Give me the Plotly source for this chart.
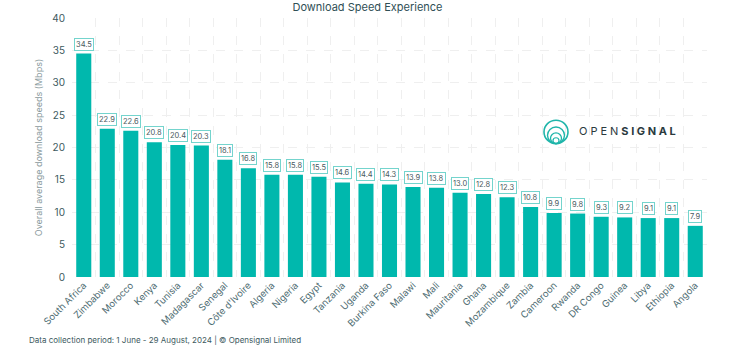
import plotly.graph_objects as go

countries = ["South Africa", "Zimbabwe", "Morocco", "Kenya", "Tunisia", "Madagascar",
             "Senegal", "Côte d'Ivoire", "Algeria", "Nigeria", "Egypt", "Tanzania",
             "Uganda", "Burkina Faso", "Malawi", "Mali", "Mauritania", "Ghana",
             "Mozambique", "Zambia", "Cameroon", "Rwanda", "DR Congo", "Guinea",
             "Libya", "Ethiopia", "Angola"]
speeds = [34.5, 22.9, 22.6, 20.8, 20.4, 20.3, 18.1, 16.8, 15.8, 15.8, 15.5, 14.6,
          14.4, 14.3, 13.9, 13.8, 13.0, 12.8, 12.3, 10.8, 9.9, 9.8, 9.3, 9.2,
          9.1, 9.1, 7.9]
y_ticks = [0, 5, 10, 15, 20, 25, 30, 35, 40]

BAR = "#00b8ad"
TXT = "#3d5a60"
GRID = "#efefef"

xs = list(range(len(countries)))

fig = go.Figure()
fig.add_trace(go.Bar(x=xs, y=speeds, marker=dict(color=BAR, line=dict(width=0)),
                     width=0.64, hoverinfo="skip"))

for x, v in zip(xs, speeds):
    fig.add_annotation(x=x, y=v, text=f"{v:.1f}", showarrow=False, yanchor="bottom",
                       yshift=3, font=dict(family="Inter", size=7.5, color="#4a5a5e"),
                       bgcolor="white", bordercolor="#74d4cd", borderwidth=1, borderpad=1)

fig.update_layout(
    width=750, height=349,
    margin=dict(l=72, r=43, t=11, b=72),
    paper_bgcolor="white", plot_bgcolor="white",
    showlegend=False,
    font=dict(family="Inter", color=TXT),
    title=dict(text="Download Speed Experience", x=0.49, xanchor="center",
               y=0.98, yanchor="middle", yref="container",
               font=dict(size=11, color="#2f4f56")),
    xaxis=dict(
        range=[-0.5, len(countries) - 0.5],
        tickvals=xs, ticktext=countries, tickangle=-45,
        tickfont=dict(size=9.5, color="#4e6c72"),
        showgrid=False, zeroline=False, showline=False, ticks="",
        minor=dict(tick0=-0.5, dtick=1, showgrid=True, gridcolor=GRID,
                   griddash="dash", gridwidth=1),
    ),
    yaxis=dict(
        range=[0, 40], tickvals=y_ticks,
        tickfont=dict(size=10, color=TXT),
        showgrid=True, gridcolor=GRID, griddash="dash", gridwidth=1,
        zeroline=False, showline=False, ticks="", ticklabelstandoff=6,
        title=dict(text="Overall average download speeds (Mbps)",
                   font=dict(size=9, color="#8a9a9d"), standoff=8),
    ),
)

fig.add_annotation(text="Data collection period: 1 June - 29 August, 2024 | © Opensignal Limited",
                   xref="paper", yref="paper", x=-0.071, y=-0.244, xanchor="left",
                   yanchor="middle", showarrow=False,
                   font=dict(size=8, color="#3d5a60"))

# Opensignal logo
sp = "\u2009\u200a"
fig.add_annotation(text=sp.join("OPEN") + sp + "<b>" + sp.join("SIGNAL") + "</b>",
                   xref="paper", yref="paper", x=0.795, y=0.562, xanchor="left",
                   yanchor="middle", showarrow=False,
                   font=dict(size=11, color="#2a3a3e"))
cx, cy_bot = 556, 140
for r, w in [(12, 1.6), (8.5, 1.4), (5.5, 1.3), (3, 1.2)]:
    fig.add_shape(type="circle", xref="paper", yref="paper",
                  x0=(cx - r - 72) / 635, x1=(cx + r - 72) / 635,
                  y0=(277 - cy_bot) / 266, y1=(277 - (cy_bot - 2 * r)) / 266,
                  line=dict(color="#1fb5aa", width=w), layer="above")

fig.write_html("out.html")
